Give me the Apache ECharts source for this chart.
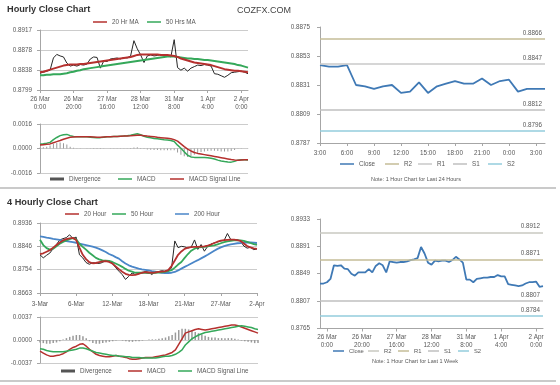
<!DOCTYPE html>
<html><head><meta charset="utf-8">
<script src="https://cdn.jsdelivr.net/npm/echarts@6/dist/echarts.min.js"></script>
<style>html,body{margin:0;padding:0;background:#fff}#c{width:560px;height:385px}</style>
</head><body><div id="c"></div>
<script>
// ---------- Hourly (last week, 2h steps) ----------
const h1Ticks = ['26 Mar\n0:00','26 Mar\n20:00','27 Mar\n16:00','28 Mar\n12:00','31 Mar\n8:00','1 Apr\n4:00','2 Apr\n0:00'];
const h1YTicks = [0.8799, 0.8838, 0.8878, 0.8917];
const h1Close = [0.8832,0.8834,0.8836,0.8838,0.8862,0.8869,0.8866,0.8864,0.8852,0.8846,
0.8848,0.8846,0.8849,0.8848,0.8850,0.8860,0.8864,0.8863,0.8842,0.8856,
0.8855,0.8860,0.8861,0.8862,0.8860,0.8863,0.8862,0.8866,0.8896,0.8880,
0.8868,0.8853,0.8866,0.8868,0.8866,0.8867,0.8869,0.8866,0.8868,0.8864,
0.8898,0.8843,0.8838,0.8842,0.8836,0.8842,0.8845,0.8848,0.8847,0.8849,
0.8848,0.8846,0.8831,0.8830,0.8827,0.8824,0.8828,0.8833,0.8834,0.8835,
0.8836,0.8834,0.8831];
const h1Ma20 = [0.8834,0.8835,0.8837,0.8839,0.8841,0.8843,0.8845,0.8847,0.8848,0.8849,
0.8849,0.8849,0.8850,0.8850,0.8851,0.8852,0.8853,0.8854,0.8855,0.8856,
0.8857,0.8858,0.8859,0.8860,0.8861,0.8862,0.8863,0.8864,0.8866,0.8868,
0.8869,0.8869,0.8869,0.8869,0.8869,0.8869,0.8868,0.8868,0.8868,0.8867,
0.8866,0.8864,0.8861,0.8859,0.8857,0.8855,0.8853,0.8852,0.8851,0.8850,
0.8849,0.8848,0.8846,0.8844,0.8842,0.8840,0.8839,0.8838,0.8837,0.8837,
0.8836,0.8835,0.8834];
const h1Ma50 = [0.8828,0.8828,0.8829,0.8829,0.8830,0.8830,0.8830,0.8831,0.8832,0.8834,
0.8835,0.8837,0.8838,0.8840,0.8841,0.8842,0.8843,0.8844,0.8845,0.8846,
0.8847,0.8848,0.8849,0.8850,0.8851,0.8852,0.8853,0.8854,0.8855,0.8856,
0.8857,0.8858,0.8859,0.8860,0.8861,0.8862,0.8863,0.8864,0.8865,0.8865,
0.8865,0.8864,0.8863,0.8862,0.8861,0.8861,0.8860,0.8860,0.8859,0.8858,
0.8858,0.8857,0.8856,0.8855,0.8854,0.8853,0.8852,0.8851,0.8850,0.8848,
0.8847,0.8845,0.8843];
const h1MacdTicks = [-0.0016, 0, 0.0016];
const h1Macd = [0.00028,0.00031,0.00035,0.00040,0.00058,0.00072,0.00084,0.00090,0.00092,0.00084,
0.00078,0.00076,0.00076,0.00077,0.00076,0.00073,0.00072,0.00070,0.00071,0.00074,
0.00076,0.00077,0.00078,0.00079,0.00080,0.00081,0.00083,0.00086,0.00092,0.00096,
0.00090,0.00080,0.00074,0.00070,0.00066,0.00063,0.00060,0.00057,0.00055,0.00052,
0.00046,0.00022,0.00002,-0.00022,-0.00044,-0.00055,-0.00058,-0.00059,-0.00059,-0.00059,
-0.00060,-0.00064,-0.00069,-0.00076,-0.00081,-0.00085,-0.00088,-0.00089,-0.00084,-0.00076,
-0.00074,-0.00074,-0.00075];
const h1Signal = [0.00023,0.00025,0.00027,0.00030,0.00038,0.00045,0.00052,0.00060,0.00067,0.00073,
0.00075,0.00076,0.00076,0.00077,0.00077,0.00076,0.00075,0.00074,0.00074,0.00075,
0.00076,0.00077,0.00078,0.00079,0.00080,0.00081,0.00082,0.00083,0.00085,0.00087,
0.00086,0.00084,0.00081,0.00079,0.00076,0.00073,0.00071,0.00069,0.00067,0.00064,
0.00058,0.00048,0.00030,0.00012,-0.00004,-0.00016,-0.00026,-0.00032,-0.00036,-0.00040,
-0.00044,-0.00048,-0.00052,-0.00056,-0.00060,-0.00064,-0.00068,-0.00072,-0.00075,-0.00076,
-0.00075,-0.00074,-0.00074];
const h1Div = [0.00005,0.00008,0.00012,0.00020,0.00030,0.00036,0.00040,0.00034,0.00026,0.00012,
0.00005,0.00002,0.00001,0.00000,-0.00001,-0.00002,-0.00003,-0.00003,-0.00003,-0.00001,
0.00000,0.00001,0.00001,0.00001,0.00001,0.00001,0.00002,0.00003,0.00006,0.00008,
0.00004,-0.00004,-0.00006,-0.00008,-0.00010,-0.00010,-0.00011,-0.00011,-0.00012,-0.00012,
-0.00012,-0.00026,-0.00040,-0.00050,-0.00055,-0.00050,-0.00040,-0.00030,-0.00023,-0.00019,
-0.00016,-0.00014,-0.00015,-0.00017,-0.00019,-0.00019,-0.00019,-0.00016,-0.00009,-0.00001,
0.00001,0.00000,-0.00001];

// ---------- Last 24 hours ----------
const dayTicks = ['3:00','6:00','9:00','12:00','15:00','18:00','21:00','0:00','3:00'];
const dayYTicks = [0.8787, 0.8809, 0.8831, 0.8853, 0.8875];
const dayClose = [0.8846,0.8845,0.8845,0.8846,0.8831,0.8830,0.8828,0.8830,0.8831,0.8825,
0.8826,0.8833,0.8825,0.8830,0.8832,0.8834,0.8832,0.8832,0.8836,0.8831,
0.8834,0.8835,0.8826,0.8828,0.8828,0.8828];
const levelNames = ['R2','R1','S1','S2'];
const dayLevels = [0.8866, 0.8847, 0.8812, 0.8796];

// ---------- 4 Hourly ----------
const h4Ticks = ['3-Mar','6-Mar','12-Mar','18-Mar','21-Mar','27-Mar','2-Apr'];
const h4YTicks = [0.8663, 0.8754, 0.8846, 0.8936];
const h4Close = [0.8812,0.8800,0.8810,0.8819,0.8836,0.8852,0.8870,0.8875,0.8879,0.8890,
0.8876,0.8881,0.8812,0.8800,0.8782,0.8775,0.8781,0.8780,0.8778,0.8782,
0.8790,0.8788,0.8780,0.8762,0.8748,0.8735,0.8716,0.8728,0.8741,0.8735,
0.8738,0.8741,0.8747,0.8744,0.8735,0.8745,0.8746,0.8750,0.8748,0.8752,
0.8760,0.8866,0.8840,0.8845,0.8843,0.8838,0.8842,0.8870,0.8833,0.8852,
0.8826,0.8845,0.8854,0.8858,0.8862,0.8866,0.8868,0.8895,0.8872,0.8869,
0.8871,0.8865,0.8846,0.8838,0.8841,0.8832,0.8835];
const h4Ma20 = [0.8815,0.8818,0.8824,0.8830,0.8840,0.8850,0.8860,0.8868,0.8873,0.8876,
0.8878,0.8870,0.8840,0.8812,0.8795,0.8783,0.8779,0.8780,0.8783,0.8786,
0.8787,0.8784,0.8778,0.8767,0.8756,0.8746,0.8738,0.8734,0.8733,0.8734,
0.8738,0.8742,0.8744,0.8743,0.8742,0.8743,0.8745,0.8746,0.8747,0.8752,
0.8768,0.8790,0.8812,0.8825,0.8835,0.8840,0.8842,0.8843,0.8843,0.8844,
0.8845,0.8848,0.8852,0.8858,0.8863,0.8867,0.8869,0.8870,0.8871,0.8871,
0.8869,0.8866,0.8856,0.8846,0.8841,0.8837,0.8835];
const h4Ma50 = [0.8871,0.8850,0.8838,0.8832,0.8835,0.8845,0.8855,0.8862,0.8868,0.8873,
0.8877,0.8872,0.8855,0.8843,0.8832,0.8820,0.8810,0.8800,0.8794,0.8790,
0.8789,0.8788,0.8784,0.8778,0.8772,0.8765,0.8757,0.8750,0.8746,0.8742,
0.8742,0.8742,0.8742,0.8741,0.8741,0.8742,0.8743,0.8744,0.8745,0.8748,
0.8752,0.8762,0.8774,0.8784,0.8800,0.8815,0.8828,0.8836,0.8840,0.8842,
0.8843,0.8845,0.8847,0.8849,0.8853,0.8857,0.8861,0.8864,0.8866,0.8868,
0.8868,0.8868,0.8866,0.8862,0.8858,0.8854,0.8851];
const h4Ma200 = [0.8884,0.8882,0.8879,0.8877,0.8874,0.8872,0.8870,0.8867,0.8865,0.8863,
0.8861,0.8859,0.8856,0.8853,0.8850,0.8847,0.8844,0.8840,0.8835,0.8829,
0.8823,0.8815,0.8810,0.8803,0.8797,0.8787,0.8778,0.8771,0.8766,0.8762,
0.8758,0.8755,0.8753,0.8751,0.8748,0.8746,0.8744,0.8742,0.8741,0.8741,
0.8742,0.8745,0.8751,0.8758,0.8765,0.8771,0.8778,0.8785,0.8791,0.8798,
0.8805,0.8812,0.8820,0.8828,0.8835,0.8841,0.8846,0.8850,0.8853,0.8855,
0.8857,0.8858,0.8860,0.8861,0.8860,0.8859,0.8858];
const h4MacdTicks = [-0.0037, 0, 0.0037];
const h4Macd = [-0.0018,-0.0021,-0.0024,-0.0026,-0.0026,-0.0025,-0.0024,-0.0022,-0.0019,-0.0015,
-0.0012,-0.0010,-0.0007,-0.0006,-0.0010,-0.0015,-0.0019,-0.0023,-0.0025,-0.0026,
-0.0027,-0.0027,-0.0026,-0.0025,-0.0026,-0.0027,-0.0028,-0.0030,-0.0031,-0.0031,
-0.0030,-0.0029,-0.0028,-0.0028,-0.0028,-0.0027,-0.0026,-0.0025,-0.0024,-0.0022,
-0.0020,-0.0016,-0.0007,0.0002,0.0011,0.0013,0.0015,0.0017,0.0018,0.0017,
0.0016,0.0017,0.0018,0.0019,0.0020,0.0021,0.0022,0.0023,0.0024,0.0024,
0.0023,0.0021,0.0019,0.0017,0.0015,0.0013,0.0011];
const h4Signal = [-0.0014,-0.0015,-0.0017,-0.0018,-0.0019,-0.0019,-0.0019,-0.0019,-0.0018,-0.0017,
-0.0016,-0.0015,-0.0013,-0.0013,-0.0014,-0.0016,-0.0018,-0.0020,-0.0021,-0.0022,
-0.0023,-0.0024,-0.0025,-0.0025,-0.0026,-0.0026,-0.0027,-0.0027,-0.0028,-0.0028,
-0.0028,-0.0029,-0.0029,-0.0029,-0.0029,-0.0029,-0.0028,-0.0027,-0.0026,-0.0026,
-0.0025,-0.0023,-0.0020,-0.0016,-0.0008,-0.0003,0.0002,0.0005,0.0008,0.0010,
0.0012,0.0013,0.0014,0.0015,0.0016,0.0017,0.0018,0.0019,0.0020,0.0021,
0.0022,0.0023,0.0022,0.0021,0.0020,0.0018,0.0017];
const h4Div = [-0.0004,-0.0005,-0.0006,-0.0006,-0.0005,-0.0004,-0.0002,0.0001,0.0003,0.0005,
0.0007,0.0008,0.0008,0.0006,0.0003,-0.0002,-0.0005,-0.0006,-0.0006,-0.0005,
-0.0004,-0.0003,-0.0002,-0.0001,0.0000,-0.0001,-0.0002,-0.0003,-0.0003,-0.0002,
-0.0002,-0.0001,0.0000,0.0001,0.0001,0.0001,0.0002,0.0003,0.0004,0.0006,
0.0008,0.0012,0.0016,0.0018,0.0018,0.0017,0.0015,0.0013,0.0011,0.0009,
0.0007,0.0005,0.0004,0.0004,0.0003,0.0003,0.0003,0.0003,0.0003,0.0002,
0.0001,-0.0001,-0.0002,-0.0003,-0.0004,-0.0005,-0.0005];

// ---------- Last 1 week (2h steps) ----------
const wkTicks = ['26 Mar\n0:00','26 Mar\n20:00','27 Mar\n16:00','28 Mar\n12:00','31 Mar\n8:00','1 Apr\n4:00','2 Apr\n0:00'];
const wkYTicks = [0.8765, 0.8807, 0.8849, 0.8891, 0.8933];
const wkClose = [0.8834,0.8834,0.8836,0.8841,0.8862,0.8861,0.8862,0.8857,0.8856,0.8849,
0.8846,0.8851,0.8851,0.8851,0.8856,0.8851,0.8861,0.8865,0.8862,0.8851,
0.8868,0.8867,0.8866,0.8867,0.8867,0.8868,0.8870,0.8871,0.8873,0.8890,
0.8880,0.8866,0.8863,0.8869,0.8868,0.8869,0.8869,0.8867,0.8870,0.8875,
0.8871,0.8866,0.8840,0.8840,0.8836,0.8841,0.8842,0.8843,0.8843,0.8844,
0.8844,0.8847,0.8845,0.8845,0.8833,0.8832,0.8831,0.8830,0.8831,0.8834,
0.8836,0.8836,0.8837,0.8829,0.8830];
const wkLevels = [0.8912, 0.8871, 0.8807, 0.8784];

// ---------- styling ----------
const F = '"Liberation Sans", Arial, sans-serif';
const AX = '#a6a6a6', TXT = '#595959', GRIDC = '#cccccc';
const RED = '#b5302e', GREEN = '#35a85a', BLUE = '#3f79b5', BLUE2 = '#4a86c8', BLACK = '#262626';
const dayLevelColors = ['#c4bd97', '#c9c9c9', '#bfbfbf', '#93cddd'];
const wkLevelColors = ['#c8c8c0', '#c4bd97', '#bfbfbf', '#93cddd'];

function idx(n) { const a = []; for (let i = 0; i < n; i++) a.push(String(i)); return a; }
function catAxis(gi, n, ticks, step, offset, margin) {
  const on = i => i >= offset && (i - offset) % step === 0;
  return {
    type: 'category', gridIndex: gi, boundaryGap: false, data: idx(n),
    axisLine: { show: true, lineStyle: { color: AX, width: 1 } },
    axisTick: { show: true, length: 3, interval: on, lineStyle: { color: AX } },
    axisLabel: { show: true, interval: on, margin: margin, fontSize: 6.3, lineHeight: 8, color: TXT, fontFamily: F,
      formatter: v => ticks[(Number(v) - offset) / step] },
    splitLine: { show: false }
  };
}
function hiddenAxis(gi, n) {
  return { type: 'category', gridIndex: gi, boundaryGap: false, data: idx(n), show: false };
}
function valAxis(gi, ticks, split, margin) {
  return {
    type: 'value', gridIndex: gi, min: ticks[0], max: ticks[ticks.length - 1],
    axisLine: { show: true, lineStyle: { color: AX } },
    axisTick: { show: true, length: 3, customValues: ticks, lineStyle: { color: AX } },
    axisLabel: { customValues: ticks, margin: margin, fontSize: 6.3, color: TXT, fontFamily: F, formatter: v => Number(v).toFixed(4) },
    splitLine: { show: split, lineStyle: { color: GRIDC, width: 1 } }
  };
}
function ln(name, ai, data, color, width, z) {
  return { name, type: 'line', xAxisIndex: ai, yAxisIndex: ai, data, symbol: 'none', showSymbol: false,
    itemStyle: { color }, lineStyle: { color, width }, z: z || 2, silent: true, animation: false };
}
function bars(ai, data, w, color) {
  return { name: 'Divergence', type: 'bar', xAxisIndex: ai, yAxisIndex: ai, data, barWidth: w,
    itemStyle: { color }, silent: true, animation: false, z: 1 };
}
function mk(levels, colors) {
  return { silent: true, symbol: ['none', 'none'], animation: false, precision: 4,
    label: { show: true, position: 'insideEndTop', distance: 3, fontSize: 6.3, color: TXT, fontFamily: F,
      formatter: p => Number(p.value).toFixed(4) },
    data: levels.map((v, k) => ({ yAxis: v, lineStyle: { color: colors[k], width: 1.5, type: 'solid' } })) };
}
function leg(name, x, y, color, h, w, fs) {
  return { left: x, top: y - 4, padding: 0, itemGap: 0, itemWidth: w || 14, itemHeight: h || 1.5, icon: 'rect',
    selectedMode: false, textStyle: { fontSize: fs || 6.3, color: TXT, fontFamily: F },
    data: [{ name, itemStyle: { color, borderWidth: 0 } }] };
}

const grids = [
  { left: 40, top: 30, width: 208, height: 60 },
  { left: 40, top: 124, width: 208, height: 49 },
  { left: 320, top: 27, width: 225, height: 116 },
  { left: 40, top: 223, width: 217, height: 70 },
  { left: 40, top: 317, width: 218, height: 46 },
  { left: 320, top: 219, width: 223, height: 109.5 }
].map(g => Object.assign(g, { outerBoundsMode: 'none', containLabel: false }));

const daySeries = ln('Close', 2, dayClose, BLUE, 1.8, 3);
daySeries.markLine = mk(dayLevels, dayLevelColors);
const wkSeries = ln('Close', 5, wkClose, BLUE, 1.8, 3);
wkSeries.markLine = mk(wkLevels, wkLevelColors);

const option = {
  animation: false,
  textStyle: { fontFamily: F },
  grid: grids,
  xAxis: [
    catAxis(0, h1Close.length, h1Ticks, 10, 0, 5),
    hiddenAxis(1, h1Macd.length),
    catAxis(2, dayClose.length, dayTicks, 3, 0, 6),
    catAxis(3, h4Close.length, h4Ticks, 11, 0, 7),
    hiddenAxis(4, h4Macd.length),
    catAxis(5, wkClose.length, wkTicks, 10, 2, 5)
  ],
  yAxis: [
    valAxis(0, h1YTicks, true, 8),
    valAxis(1, h1MacdTicks, true, 8),
    valAxis(2, dayYTicks, false, 10),
    valAxis(3, h4YTicks, true, 8),
    valAxis(4, h4MacdTicks, true, 8),
    valAxis(5, wkYTicks, false, 10)
  ],
  legend: [
    leg('20 Hr MA', 93, 23, RED), leg('50 Hrs MA', 147, 23, GREEN),
    leg('Divergence', 50, 180, '#555555', 3), leg('MACD', 118, 180, GREEN), leg('MACD Signal Line', 170, 180, RED),
    leg('Close', 340, 165, BLUE), leg('R2', 385, 165, dayLevelColors[0]), leg('R1', 418, 165, dayLevelColors[1]),
    leg('S1', 453, 165, dayLevelColors[2]), leg('S2', 488, 165, dayLevelColors[3]),
    leg('20 Hour', 65, 215, RED), leg('50 Hour', 112, 215, GREEN), leg('200 Hour', 175, 215, BLUE2),
    leg('Divergence', 61, 372, '#555555', 3), leg('MACD', 128, 372, RED), leg('MACD Signal Line', 178, 372, GREEN),
    leg('Close', 333, 352, BLUE, 1.5, 11, 5.8), leg('R2', 368, 352, wkLevelColors[0], 1.5, 11, 5.8),
    leg('R1', 398, 352, wkLevelColors[1], 1.5, 11, 5.8), leg('S1', 428, 352, wkLevelColors[2], 1.5, 11, 5.8),
    leg('S2', 458, 352, wkLevelColors[3], 1.5, 11, 5.8)
  ],
  series: [
    ln('Close 1h', 0, h1Close, BLACK, 1, 2),
    ln('50 Hrs MA', 0, h1Ma50, GREEN, 2, 3),
    ln('20 Hr MA', 0, h1Ma20, RED, 2, 4),
    bars(1, h1Div, 1, '#9a9a9a'),
    ln('MACD', 1, h1Macd, GREEN, 1.5, 3),
    ln('MACD Signal Line', 1, h1Signal, RED, 1.5, 4),
    daySeries,
    ...levelNames.map((n, k) => ln(n, 2, [], dayLevelColors[k], 1.5)),
    ln('Close 4h', 3, h4Close, BLACK, 1, 2),
    ln('200 Hour', 3, h4Ma200, BLUE2, 1.8, 3),
    ln('50 Hour', 3, h4Ma50, GREEN, 1.8, 4),
    ln('20 Hour', 3, h4Ma20, RED, 1.8, 5),
    bars(4, h4Div, 1.5, '#9a9a9a'),
    ln('MACD', 4, h4Macd, RED, 1.5, 3),
    ln('MACD Signal Line', 4, h4Signal, GREEN, 1.5, 4),
    wkSeries
  ],
  graphic: [
    { type: 'text', x: 7, y: 9.5, style: { text: 'Hourly Close Chart', font: 'bold 9.2px ' + F, fill: '#333333', verticalAlign: 'middle' } },
    { type: 'text', x: 237, y: 11, style: { text: 'COZFX.COM', font: '9px ' + F, fill: '#444444', verticalAlign: 'middle' } },
    { type: 'text', x: 7, y: 202, style: { text: '4 Hourly Close Chart', font: 'bold 9.2px ' + F, fill: '#333333', verticalAlign: 'middle' } },
    { type: 'text', x: 416, y: 179, style: { text: 'Note: 1 Hour Chart for Last 24 Hours', font: '5.5px ' + F, fill: TXT, align: 'center', verticalAlign: 'middle' } },
    { type: 'text', x: 415, y: 361, style: { text: 'Note: 1 Hour Chart for Last 1 Week', font: '5.5px ' + F, fill: TXT, align: 'center', verticalAlign: 'middle' } },
    { type: 'line', shape: { x1: 0, y1: 188, x2: 556, y2: 188 }, style: { stroke: '#b8b8b8', lineWidth: 1.5 } },
    { type: 'line', shape: { x1: 0, y1: 381, x2: 556, y2: 381 }, style: { stroke: '#b8b8b8', lineWidth: 1.5 } }
  ]
};
const chart = echarts.init(document.getElementById('c'), null, { renderer: 'canvas' });
chart.setOption(option);
</script></body></html>
